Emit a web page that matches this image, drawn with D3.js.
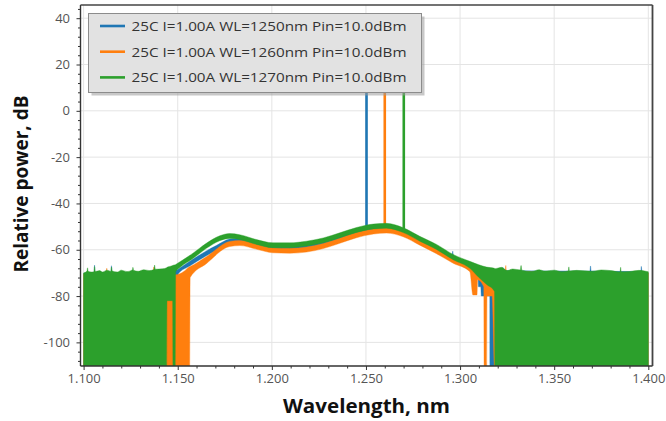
<!DOCTYPE html>
<html>
<head>
<meta charset="utf-8">
<script src="https://cdn.jsdelivr.net/npm/d3@7"></script>
<style>
  html, body { margin: 0; padding: 0; background: #fff; }
  svg { display: block; font-family: "Open Sans", "Noto Sans", sans-serif; }
</style>
</head>
<body>
<svg id="chart" width="666" height="421"></svg>
<script>
// Legend labels and colours, one per measured spectrum
const seriesNames = [
  "25C I=1.00A WL=1250nm Pin=10.0dBm",
  "25C I=1.00A WL=1260nm Pin=10.0dBm",
  "25C I=1.00A WL=1270nm Pin=10.0dBm"
];
const seriesColors = ["#1f77b4", "#ff7f0e", "#2ca02c"];

// The spectra are noisy, so each is stored as an envelope:
// [wavelength (um), upper edge (dB), lower edge (dB)]
const trace1250 = [
  [1.1000, -70.3, -115],
  [1.1056, -70.0, -115], [1.1058, -66.6, -115], [1.1061, -70.0, -115],
  [1.1145, -70.0, -115], [1.1148, -66.9, -115], [1.1151, -70.0, -115],
  [1.1440, -69.5, -115],
  [1.1500, -68.5, -115],
  [1.1502, -68.4, -70.5],
  [1.1564, -65.0, -67.0],
  [1.1652, -60.5, -62.6],
  [1.1705, -58.2, -60.3],
  [1.1776, -55.4, -57.4],
  [1.1830, -55.0, -57.0],
  [1.1920, -56.8, -58.8],
  [1.2006, -58.4, -60.4],
  [1.2095, -58.5, -60.5],
  [1.2184, -57.9, -59.9],
  [1.2273, -56.4, -58.4],
  [1.2361, -54.1, -56.1],
  [1.2450, -51.8, -53.8],
  [1.2540, -50.1, -52.1],
  [1.2609, -49.8, -51.8],
  [1.2698, -51.5, -53.5],
  [1.2786, -55.1, -57.1],
  [1.2875, -58.7, -60.8],
  [1.2958, -62.5, -64.6], [1.2961, -60.6, -64.6], [1.2965, -62.8, -64.8],
  [1.3052, -66.3, -68.8],
  [1.3095, -67.5, -70.5], [1.3098, -67.5, -76.0], [1.3110, -67.8, -76.0], [1.3113, -68.0, -80.0],
  [1.3158, -68.2, -80.0], [1.3159, -68.3, -115],
  [1.3225, -69.0, -115], [1.3227, -67.6, -115], [1.3229, -69.0, -115],
  [1.3690, -69.2, -115], [1.3693, -67.0, -115], [1.3696, -69.2, -115],
  [1.3960, -69.4, -115], [1.3963, -67.2, -115], [1.3966, -69.4, -115],
  [1.4000, -70.0, -115]
];

const trace1260 = [
  [1.1000, -70.5, -115],
  [1.1120, -70.2, -115], [1.1123, -68.0, -115], [1.1126, -70.2, -115],
  [1.1370, -70.0, -115], [1.1373, -67.5, -115], [1.1376, -69.8, -115],
  [1.1441, -70.0, -115],
  [1.1490, -70.8, -115],
  [1.1530, -69.5, -115],
  [1.1563, -67.3, -115],
  [1.1566, -67.2, -72.0],
  [1.1652, -63.0, -66.0],
  [1.1776, -56.4, -58.6],
  [1.1830, -56.0, -58.2],
  [1.1920, -57.6, -59.8],
  [1.2006, -59.2, -61.3],
  [1.2095, -59.4, -61.5],
  [1.2184, -58.8, -61.0],
  [1.2273, -57.3, -59.5],
  [1.2361, -55.0, -57.2],
  [1.2450, -52.6, -54.8],
  [1.2540, -51.0, -53.2],
  [1.2609, -50.6, -52.8],
  [1.2698, -52.2, -54.4],
  [1.2786, -55.8, -58.0],
  [1.2875, -59.5, -61.7],
  [1.2963, -63.5, -65.8],
  [1.3052, -67.0, -69.5],
  [1.3068, -67.8, -79.5],
  [1.3090, -68.0, -79.5],
  [1.3093, -68.0, -73.0],
  [1.3126, -68.2, -76.0],
  [1.3128, -68.2, -115],
  [1.3141, -68.2, -115],
  [1.3143, -68.3, -80.0],
  [1.3170, -68.5, -80.0],
  [1.3185, -69.0, -115],
  [1.3240, -69.3, -115], [1.3243, -66.8, -115], [1.3246, -69.3, -115],
  [1.4000, -70.0, -115]
];

const trace1270 = [
  [1.1000, -70.0, -115],
  [1.1018, -69.2, -115], [1.1021, -67.8, -115], [1.1024, -69.3, -115],
  [1.1040, -69.6, -115],
  [1.1055, -69.5, -115], [1.1058, -67.2, -115], [1.1062, -69.4, -115],
  [1.1085, -69.0, -115],
  [1.1100, -69.6, -115],
  [1.1125, -68.8, -115],
  [1.1145, -69.3, -115], [1.1148, -67.5, -115], [1.1152, -69.2, -115],
  [1.1180, -69.6, -115],
  [1.1200, -68.8, -115],
  [1.1230, -69.4, -115],
  [1.1260, -68.6, -115], [1.1262, -67.6, -115], [1.1265, -68.8, -115],
  [1.1290, -69.3, -115],
  [1.1320, -68.6, -115],
  [1.1350, -69.0, -115],
  [1.1374, -68.5, -115], [1.1377, -66.6, -115], [1.1381, -68.4, -115],
  [1.1420, -68.2, -115],
  [1.1441, -67.8, -115],
  [1.1443, -67.6, -82.0],
  [1.1473, -66.8, -82.0],
  [1.1475, -66.7, -115],
  [1.1487, -66.5, -115],
  [1.1489, -66.4, -69.5],
  [1.1510, -65.3, -67.8],
  [1.1581, -61.5, -63.8],
  [1.1652, -57.2, -59.4],
  [1.1723, -54.0, -56.1],
  [1.1776, -53.0, -55.1],
  [1.1829, -53.5, -55.6],
  [1.1918, -55.6, -57.7],
  [1.2006, -57.0, -59.1],
  [1.2095, -57.0, -59.1],
  [1.2184, -56.3, -58.4],
  [1.2273, -54.9, -57.0],
  [1.2361, -52.7, -54.8],
  [1.2450, -50.4, -52.5],
  [1.2540, -48.9, -51.0],
  [1.2609, -48.6, -50.7],
  [1.2698, -50.5, -52.6],
  [1.2786, -54.2, -56.3],
  [1.2875, -57.7, -59.9],
  [1.2963, -62.0, -64.3],
  [1.3052, -65.0, -68.0],
  [1.3100, -66.5, -72.0],
  [1.3141, -67.5, -75.0],
  [1.3183, -68.0, -78.0],
  [1.3185, -68.2, -115],
  [1.3220, -67.6, -115],
  [1.3250, -69.0, -115],
  [1.3280, -68.3, -115],
  [1.3320, -68.7, -115], [1.3324, -66.8, -115], [1.3328, -68.8, -115],
  [1.3380, -69.4, -115],
  [1.3420, -68.6, -115],
  [1.3450, -69.2, -115],
  [1.3500, -68.8, -115],
  [1.3540, -69.5, -115],
  [1.3575, -69.2, -115], [1.3578, -67.4, -115], [1.3581, -69.2, -115],
  [1.3620, -68.9, -115],
  [1.3700, -69.3, -115],
  [1.3750, -68.7, -115],
  [1.3800, -69.0, -115],
  [1.3850, -69.6, -115], [1.3853, -67.6, -115], [1.3856, -69.5, -115],
  [1.3900, -69.4, -115],
  [1.3950, -68.9, -115],
  [1.4000, -69.5, -115]
];

// Narrow laser lines of each measurement
const laserWl = [1.2503, 1.2600, 1.2701];
const laserBaseDb = [-51.5, -51.5, -51.5];
const laserPeakDb = [10, 10, 10];

// Axis ticks
const xMajorTicks = [1.10, 1.15, 1.20, 1.25, 1.30, 1.35, 1.40];
const yMajorTicks = [-100, -80, -60, -40, -20, 0, 20, 40];

const svg = d3.select("#chart");
const plotL = 80.5, plotR = 652.5, plotT = 5, plotB = 366;

const x = d3.scaleLinear().domain([1.09835, 1.40223]).range([plotL, plotR]);
const y = d3.scaleLinear().domain([-110.2, 45.7]).range([plotB, plotT]);

const xMinorTicks = d3.range(110, 141, 1).map(v => v / 100)
  .filter(v => !xMajorTicks.some(t => Math.abs(t - v) < 1e-9));
const yMinorTicks = d3.range(-108, 45, 4).filter(v => !yMajorTicks.includes(v));

// clip region for the data
svg.append("defs").append("clipPath").attr("id", "plotClip")
  .append("rect").attr("x", plotL).attr("y", plotT)
  .attr("width", plotR - plotL).attr("height", plotB - plotT);

// gridlines
const grid = svg.append("g").attr("stroke", "#e4e4e4").attr("stroke-width", 1);
grid.selectAll(".gx").data(xMajorTicks).join("line")
  .attr("x1", d => x(d)).attr("x2", d => x(d)).attr("y1", plotT).attr("y2", plotB);
grid.selectAll(".gy").data(yMajorTicks).join("line")
  .attr("y1", d => y(d)).attr("y2", d => y(d)).attr("x1", plotL).attr("x2", plotR);

// spectra, drawn in legend order so the 1270 nm trace ends up on top
const traces = [trace1250, trace1260, trace1270];
const area = d3.area()
  .curve(d3.curveMonotoneX)
  .x(d => x(d[0]))
  .y0(d => y(d[2]))
  .y1(d => y(d[1]));

const dataG = svg.append("g").attr("clip-path", "url(#plotClip)");
traces.forEach((t, i) => {
  dataG.append("path").datum(t)
    .attr("d", area)
    .attr("fill", seriesColors[i])
    .attr("stroke", seriesColors[i])
    .attr("stroke-width", 0.4);
  dataG.append("line")
    .attr("x1", x(laserWl[i])).attr("x2", x(laserWl[i]))
    .attr("y1", y(laserBaseDb[i])).attr("y2", y(laserPeakDb[i]))
    .attr("stroke", seriesColors[i]).attr("stroke-width", 2.6);
});

// axes
const tickColor = "#333";
const labelColor = "#555";

const xAxis = svg.append("g").attr("transform", `translate(0,${plotB})`)
  .call(d3.axisBottom(x).tickValues(xMajorTicks).tickSize(4).tickSizeOuter(0)
    .tickFormat(d3.format(".3f")));
xAxis.select(".domain").remove();
xAxis.selectAll(".tick line").attr("stroke", tickColor);
xAxis.selectAll(".tick text").attr("fill", labelColor).attr("font-size", 13)
  .attr("font-family", "'Open Sans','Noto Sans',sans-serif").attr("y", 8);

const xMinor = svg.append("g").attr("transform", `translate(0,${plotB})`)
  .call(d3.axisBottom(x).tickValues(xMinorTicks).tickSize(2.5).tickSizeOuter(0).tickFormat(""));
xMinor.select(".domain").remove();
xMinor.selectAll(".tick line").attr("stroke", tickColor);

const yAxis = svg.append("g").attr("transform", `translate(${plotL},0)`)
  .call(d3.axisLeft(y).tickValues(yMajorTicks).tickSize(4).tickSizeOuter(0)
    .tickPadding(6.5).tickFormat(d => String(d)));
yAxis.select(".domain").remove();
yAxis.selectAll(".tick line").attr("stroke", tickColor);
yAxis.selectAll(".tick text").attr("fill", labelColor).attr("font-size", 13)
  .attr("font-family", "'Open Sans','Noto Sans',sans-serif");

const yMinor = svg.append("g").attr("transform", `translate(${plotL},0)`)
  .call(d3.axisLeft(y).tickValues(yMinorTicks).tickSize(2.5).tickSizeOuter(0).tickFormat(""));
yMinor.select(".domain").remove();
yMinor.selectAll(".tick line").attr("stroke", tickColor);

// plot frame
svg.append("line").attr("x1", plotL).attr("x2", plotL).attr("y1", plotT).attr("y2", plotB)
  .attr("stroke", "#333").attr("stroke-width", 1.4);
svg.append("line").attr("x1", plotL).attr("x2", plotR).attr("y1", plotB).attr("y2", plotB)
  .attr("stroke", "#333").attr("stroke-width", 1.4);
svg.append("line").attr("x1", plotL).attr("x2", plotR).attr("y1", plotT).attr("y2", plotT)
  .attr("stroke", "#444").attr("stroke-width", 1.4);
svg.append("line").attr("x1", plotR).attr("x2", plotR).attr("y1", plotT).attr("y2", plotB)
  .attr("stroke", "#444").attr("stroke-width", 1.8);

// legend
const lg = svg.append("g");
const lgX = 88.5, lgY = 13.5, lgW = 333, lgH = 79;
lg.append("rect").attr("x", lgX + 3).attr("y", lgY + 3).attr("width", lgW).attr("height", lgH)
  .attr("fill", "#9a9a9a").attr("opacity", 0.55);
lg.append("rect").attr("x", lgX).attr("y", lgY).attr("width", lgW).attr("height", lgH)
  .attr("fill", "#e2e2e2").attr("stroke", "#8c8c8c").attr("stroke-width", 1);
seriesNames.forEach((name, i) => {
  const cy = 26 + i * 25.7;
  lg.append("line").attr("x1", 100).attr("x2", 125).attr("y1", cy).attr("y2", cy)
    .attr("stroke", seriesColors[i]).attr("stroke-width", 2.6);
  lg.append("text").attr("x", 131.5).attr("y", cy + 5)
    .attr("font-size", 13.5).attr("fill", "#333")
    .attr("textLength", 275).attr("lengthAdjust", "spacingAndGlyphs")
    .text(name);
});

// axis titles
svg.append("text").attr("x", 366.5).attr("y", 413).attr("text-anchor", "middle")
  .attr("font-size", 20).attr("font-weight", "bold").attr("fill", "#111")
  .attr("textLength", 167).attr("lengthAdjust", "spacingAndGlyphs")
  .text("Wavelength, nm");
svg.append("text").attr("transform", "translate(28,184) rotate(-90)").attr("text-anchor", "middle")
  .attr("font-size", 20).attr("font-weight", "bold").attr("fill", "#111")
  .attr("textLength", 177).attr("lengthAdjust", "spacingAndGlyphs")
  .text("Relative power, dB");
</script>
</body>
</html>
